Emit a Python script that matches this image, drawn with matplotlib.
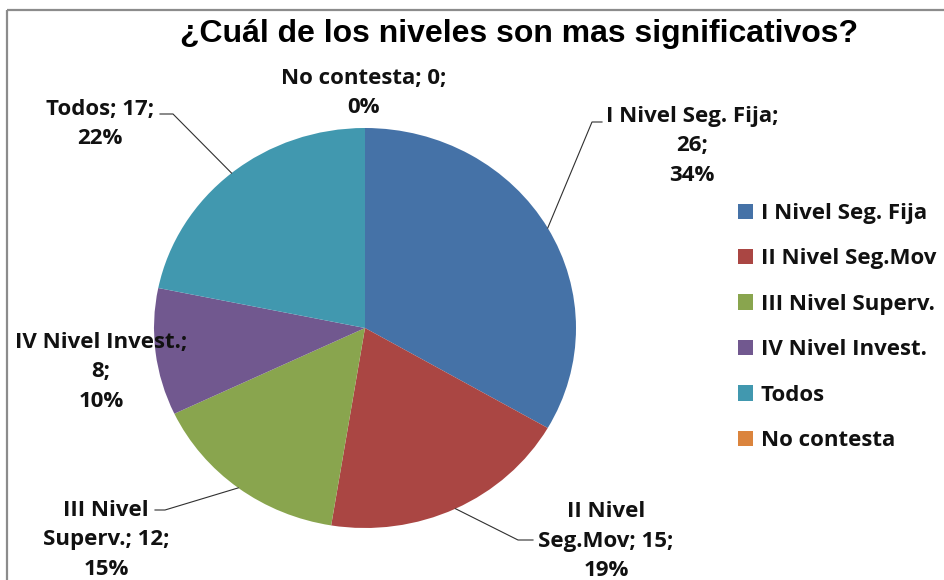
import matplotlib
matplotlib.use("Agg")
import matplotlib.pyplot as plt
from matplotlib.patches import Rectangle
import numpy as np

# datos
categorias = ["I Nivel Seg. Fija", "II Nivel Seg.Mov", "III Nivel Superv.",
              "IV Nivel Invest.", "Todos", "No contesta"]
valores = [26, 15, 12, 8, 17, 0]
porcentajes = [34, 19, 15, 10, 22, 0]
colores = ["#4572A7", "#AA4643", "#89A54E", "#71588F", "#4198AF", "#DB843D"]

titulo = "¿Cuál de los niveles son mas significativos?"

# layout de etiquetas (pixeles de la figura): centro del bloque, modo de corte, codo del conector
pos_etiquetas = [(692, 146), (606, 541), (106, 540), (101, 372), (100, 124), (364, 93)]
modo_corte = ["A", "B", "B", "A", "C", "C"]
conectores = [[(592, 122), (602, 122)],
              [(518, 540), (533, 540)],
              [(165, 510), (155, 510)],
              None,
              [(173, 114), (160, 114)],
              None]

W, H = 944, 580
fig = plt.figure(figsize=(W / 100, H / 100), dpi=100)

# pie (un poco eliptico como en el original)
cx, cy, rx, ry = 365, 328, 211, 200
ax = fig.add_axes([(cx - rx) / W, (H - cy - ry) / H, 2 * rx / W, 2 * ry / H])
wedges, _ = ax.pie(valores, colors=colores, startangle=90, counterclock=False,
                   radius=1, wedgeprops=dict(linewidth=0))
ax.set_aspect("auto")
ax.set_xlim(-1, 1)
ax.set_ylim(-1, 1)

# capa en pixeles para textos y conectores
ov = fig.add_axes([0, 0, 1, 1])
ov.set_xlim(0, W)
ov.set_ylim(H, 0)
ov.axis("off")

ov.add_patch(Rectangle((7, 10), 1200, 1200, fill=False, edgecolor="#8c8c8c", lw=1.6))

ov.text(519, 34, titulo, ha="center", va="center", fontsize=23,
        fontweight="bold", family="Liberation Sans")

fuente = "Open Sans"
tam = 16


def texto_etiqueta(cat, v, p, modo):
    if modo == "A":
        return f"{cat};\n{v};\n{p}%"
    if modo == "B":
        partes = cat.split(" ", 2)
        return f"{partes[0]} {partes[1]}\n{partes[2]}; {v};\n{p}%"
    return f"{cat}; {v};\n{p}%"


a_pix = ov.transData.inverted()
for i, w in enumerate(wedges):
    x, y = pos_etiquetas[i]
    ov.text(x, y, texto_etiqueta(categorias[i], valores[i], porcentajes[i], modo_corte[i]),
            ha="center", va="center", multialignment="center", fontsize=tam,
            fontweight="bold", family=fuente, linespacing=1.53, color="#111111")
    if conectores[i] is not None:
        ang = np.deg2rad((w.theta1 + w.theta2) / 2)
        borde = a_pix.transform(ax.transData.transform((np.cos(ang), np.sin(ang))))
        pts = [tuple(borde)] + conectores[i]
        ov.plot([p[0] for p in pts], [p[1] for p in pts], color="#303030", lw=0.8)

ley = ov.legend(wedges, categorias, loc="upper left", bbox_to_anchor=(738 / W, 1 - 203 / H),
                bbox_transform=fig.transFigure, frameon=False,
                prop=dict(family=fuente, weight="bold", size=tam),
                handlelength=0.68, handleheight=0.68, handletextpad=0.35,
                labelspacing=1.1, borderpad=0, borderaxespad=0)
for t in ley.get_texts():
    t.set_color("#111111")

fig.savefig("out.png", dpi=100)
